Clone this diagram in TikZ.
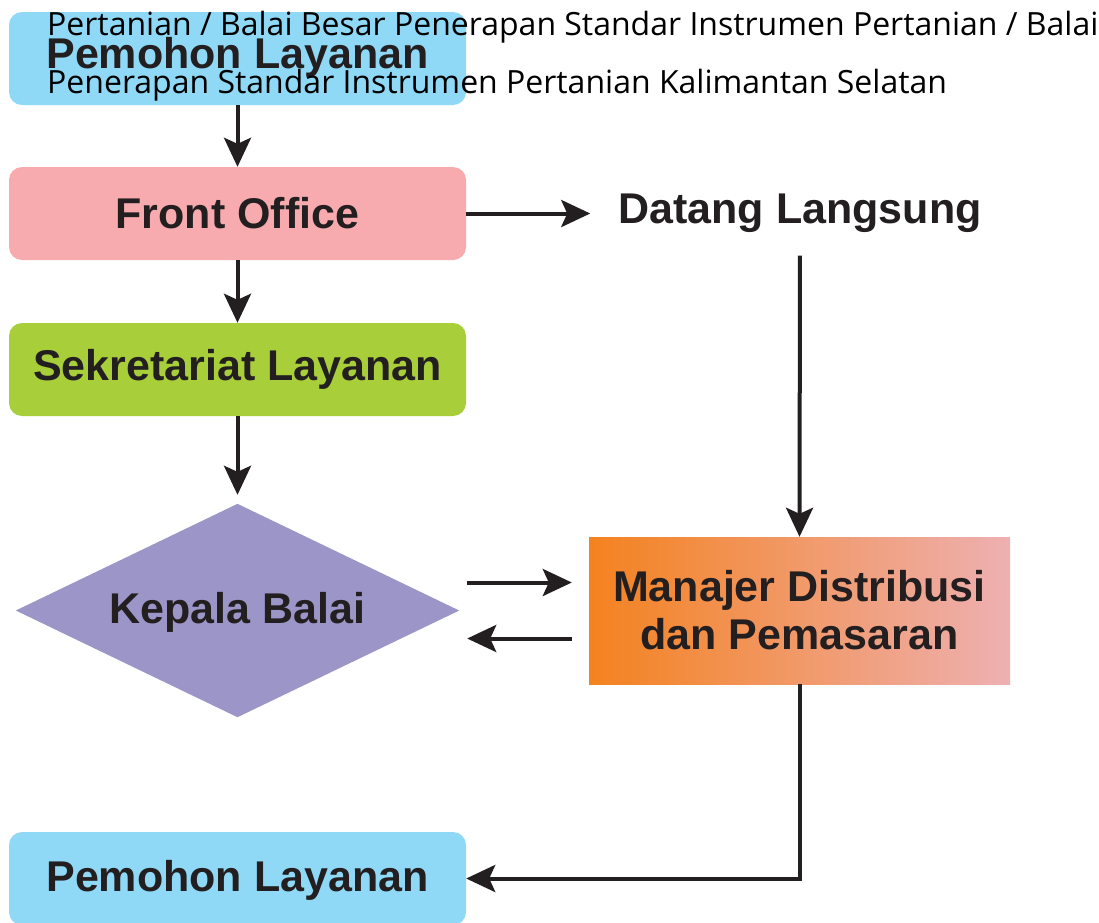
\documentclass[tikz,border=0pt]{standalone}
\usepackage{fontspec}
\setmainfont{Liberation Sans}
\newfontfamily\opensans{Open Sans}
\usetikzlibrary{arrows.meta,backgrounds}
\definecolor{ink}{HTML}{231F20}
\definecolor{cblue}{HTML}{8FD8F6}
\definecolor{cpink}{HTML}{F7ABAE}
\definecolor{cgreen}{HTML}{A8CE3A}
\definecolor{cpurple}{HTML}{9C95C8}
\definecolor{corange}{HTML}{F4821F}
\definecolor{crose}{HTML}{EEB0B2}
\tikzset{
  lbl/.style={text=ink, font=\fontsize{43pt}{48pt}\selectfont\bfseries},
  box/.style={lbl, rounded corners=13pt, minimum width=457pt, minimum height=93pt,
              inner sep=0pt, text height=31pt, text depth=9pt},
  arr/.style={line width=4pt, draw=ink, -{Stealth[length=29pt,width=27pt,inset=6pt]}},
  overlay/.style={anchor=base west, inner sep=0pt, text=black,
              font=\opensans\fontsize{32pt}{38pt}\selectfont}
}
\begin{document}
\begin{tikzpicture}[x=1pt,y=-1pt]
\useasboundingbox (0,0) rectangle (1099,922);
\clip (0,0) rectangle (1099,922);

\node[box, fill=cblue, text depth=12pt] (p1) at (237.5,58.5) {Pemohon Layanan};
\node[box, fill=cpink, text depth=1pt] (fo) at (237.5,213.5) {Front Office};
\node[box, fill=cgreen] (sl) at (237.5,369.5) {Sekretariat Layanan};
\node[box, fill=cblue, text depth=6pt] (p2) at (237.5,878.5) {Pemohon Layanan};

\node[lbl, inner sep=0pt] (dl) at (800,213) {Datang Langsung};

\node[lbl, inner sep=0pt, minimum width=443pt, minimum height=213pt, text height=31pt, text depth=6pt]
  (kb) at (237.5,610.5) {Kepala Balai};
\begin{scope}[on background layer]
  \fill[cpurple] (kb.north) -- (kb.east) -- (kb.south) -- (kb.west) -- cycle;
\end{scope}

\node[lbl, left color=corange, right color=crose, minimum width=421pt, minimum height=147pt,
      inner sep=0pt, align=center] (md) at (799.5,610.5) {Manajer Distribusi\\dan Pemasaran};

\draw[arr] (p1.south) -- (fo.north);
\draw[arr] (fo.south) -- (sl.north);
\draw[arr] (sl.south) -- ([yshift=9pt]kb.north);
\draw[arr, shorten >=28pt] (fo.east) -- (fo.east -| dl.west);
\draw[arr, shorten <=23pt] (dl.south) -- (md.north);
\draw[arr] ([shift={(8,-28)}]kb.east) -- ([shift={(-17,-28)}]md.west);
\draw[arr] ([shift={(-17,28)}]md.west) -- ([shift={(8,28)}]kb.east);
\draw[arr] (md.south) |- (p2.east);

\node[overlay] (t1) at (47,35) {Pertanian / Balai Besar Penerapan Standar Instrumen Pertanian / Balai};
\node[overlay] (t2) at (47,93) {Penerapan Standar Instrumen Pertanian Kalimantan Selatan};
\end{tikzpicture}
\end{document}
